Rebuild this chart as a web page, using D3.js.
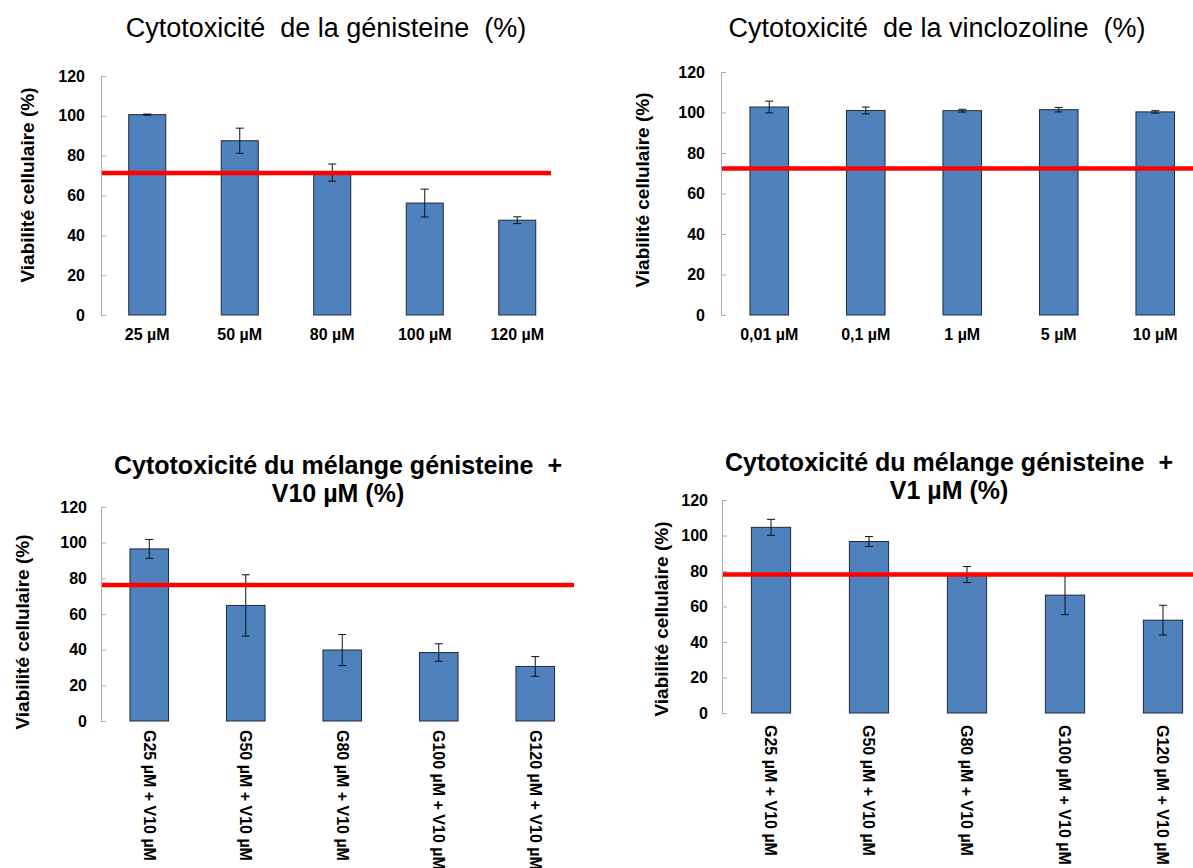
<!DOCTYPE html>
<html>
<head>
<meta charset="utf-8">
<script src="https://cdn.jsdelivr.net/npm/d3@7"></script>
<style>
  body { margin: 0; background: #fff; }
  svg { display: block; font-family: "Liberation Sans", Arial, sans-serif; }
  text { white-space: pre; }
</style>
</head>
<body>
<svg id="canvas" width="1193" height="868"></svg>
<script>
// values
const yTicks = [0, 20, 40, 60, 80, 100, 120];

const genLabels = ["25 µM", "50 µM", "80 µM", "100 µM", "120 µM"];
const genValues = [100.6, 87.5, 71.5, 56.2, 47.6];
const genErrors = [0.3, 6.3, 4.3, 7.0, 1.7];
const genThreshold = 71.3;

const vinLabels = ["0,01 µM", "0,1 µM", "1 µM", "5 µM", "10 µM"];
const vinValues = [102.7, 101.0, 100.9, 101.4, 100.3];
const vinErrors = [2.9, 1.7, 0.7, 1.1, 0.6];
const vinThreshold = 72.3;

const mixLabels = ["G25 µM + V10 µM", "G50 µM + V10 µM", "G80 µM + V10 µM", "G100 µM + V10 µM", "G120 µM + V10 µM"];
const mix10Values = [96.5, 64.8, 39.8, 38.4, 30.6];
const mix10Errors = [5.3, 17.2, 8.7, 4.9, 5.5];
const mix10Threshold = 76.3;

const mix1Values = [104.6, 96.6, 78.0, 66.4, 52.3];
const mix1Errors = [4.5, 2.8, 4.5, 11.0, 8.4];
const mix1Threshold = 78.0;

const svg = d3.select('#canvas');

function panel(opt) {
  const g = svg.append("g");
  const data = opt.labels.map((l, i) => ({ label: l, value: opt.values[i], err: opt.errors[i] }));

  const x = d3.scaleBand()
    .domain(opt.labels)
    .range([opt.left, opt.left + opt.step * opt.labels.length])
    .paddingInner(0.6)
    .paddingOuter(0.3);

  const y = d3.scaleLinear()
    .domain([0, 120])
    .range([opt.bottom, opt.top]);

  // y axis, light grey with small inner ticks
  const ax = g.append("g")
    .attr("transform", `translate(${opt.left},0)`)
    .call(d3.axisLeft(y).tickValues(yTicks).tickSize(-5).tickSizeOuter(0).tickPadding(opt.tickPad));
  ax.select(".domain").attr("stroke", "#b0b0b0");
  ax.selectAll(".tick line").attr("stroke", "#b0b0b0");
  ax.selectAll(".tick text")
    .attr("fill", "#000")
    .attr("font-size", 16)
    .attr("font-weight", "bold")
    .attr("font-family", "Liberation Sans, Arial, sans-serif");

  g.append("g")
    .selectAll("rect")
    .data(data)
    .join("rect")
    .attr("x", d => x(d.label))
    .attr("y", d => y(d.value))
    .attr("width", x.bandwidth())
    .attr("height", d => y(0) - y(d.value))
    .attr("fill", "#4f81bd")
    .attr("stroke", "#1e2a38")
    .attr("stroke-width", 1);

  // error bars
  const eb = g.append("g").attr("stroke", "#111").attr("stroke-width", 1);
  data.forEach(d => {
    const cx = x(d.label) + x.bandwidth() / 2;
    eb.append("line").attr("x1", cx).attr("x2", cx)
      .attr("y1", y(d.value - d.err)).attr("y2", y(d.value + d.err));
    [d.value - d.err, d.value + d.err].forEach(v => {
      eb.append("line").attr("x1", cx - 4).attr("x2", cx + 4)
        .attr("y1", y(v)).attr("y2", y(v));
    });
  });

  // red threshold line
  g.append("line")
    .attr("x1", opt.left + 1)
    .attr("x2", opt.redEnd)
    .attr("y1", y(opt.threshold))
    .attr("y2", y(opt.threshold))
    .attr("stroke", "#ff0000")
    .attr("stroke-width", 4.5);

  // category labels
  const lab = g.append("g").attr("font-size", 16).attr("font-weight", "bold");
  if (opt.rotate) {
    data.forEach(d => {
      const cx = x(d.label) + x.bandwidth() / 2;
      lab.append("text")
        .attr("transform", `translate(${cx},${opt.labelY}) rotate(90)`)
        .attr("dy", "0.35em")
        .text(d.label);
    });
  } else {
    lab.selectAll("text")
      .data(data)
      .join("text")
      .attr("x", d => x(d.label) + x.bandwidth() / 2)
      .attr("y", opt.labelY)
      .attr("text-anchor", "middle")
      .text(d => d.label);
  }

  // y axis title
  g.append("text")
    .attr("transform", `translate(${opt.yTitleX},${opt.yTitleY}) rotate(-90)`)
    .attr("text-anchor", "middle")
    .attr("dy", "0.35em")
    .attr("font-size", 19)
    .attr("font-weight", "bold")
    .text("Viabilité cellulaire (%)");

  // title
  const t = g.append("text")
    .attr("text-anchor", "middle")
    .attr("font-size", opt.titleSize)
    .attr("font-weight", opt.titleWeight);
  opt.title.forEach((line, i) => {
    t.append("tspan")
      .attr("x", opt.titleX)
      .attr("y", opt.titleY + i * 28)
      .text(line);
  });
}

panel({
  labels: genLabels, values: genValues, errors: genErrors, threshold: genThreshold,
  left: 101, step: 92.5, top: 76, bottom: 315, redEnd: 551, tickPad: 16,
  labelY: 340, rotate: false, yTitleX: 27, yTitleY: 185,
  title: ["Cytotoxicité  de la génisteine  (%)"], titleX: 326, titleY: 37, titleSize: 27, titleWeight: "normal"
});

panel({
  labels: vinLabels, values: vinValues, errors: vinErrors, threshold: vinThreshold,
  left: 721, step: 96.5, top: 72, bottom: 315, redEnd: 1193, tickPad: 16,
  labelY: 340, rotate: false, yTitleX: 642, yTitleY: 190,
  title: ["Cytotoxicité  de la vinclozoline  (%)"], titleX: 937, titleY: 37, titleSize: 27, titleWeight: "normal"
});

panel({
  labels: mixLabels, values: mix10Values, errors: mix10Errors, threshold: mix10Threshold,
  left: 101, step: 96.5, top: 507, bottom: 721, redEnd: 574, tickPad: 14,
  labelY: 730, rotate: true, yTitleX: 22, yTitleY: 632,
  title: ["Cytotoxicité du mélange génisteine  +", "V10 µM (%)"], titleX: 338, titleY: 474, titleSize: 25, titleWeight: "bold"
});

panel({
  labels: mixLabels, values: mix1Values, errors: mix1Errors, threshold: mix1Threshold,
  left: 722, step: 98, top: 500, bottom: 713, redEnd: 1193, tickPad: 14,
  labelY: 725, rotate: true, yTitleX: 661, yTitleY: 619,
  title: ["Cytotoxicité du mélange génisteine  +", "V1 µM (%)"], titleX: 949, titleY: 471, titleSize: 25, titleWeight: "bold"
});
</script>
</body>
</html>
